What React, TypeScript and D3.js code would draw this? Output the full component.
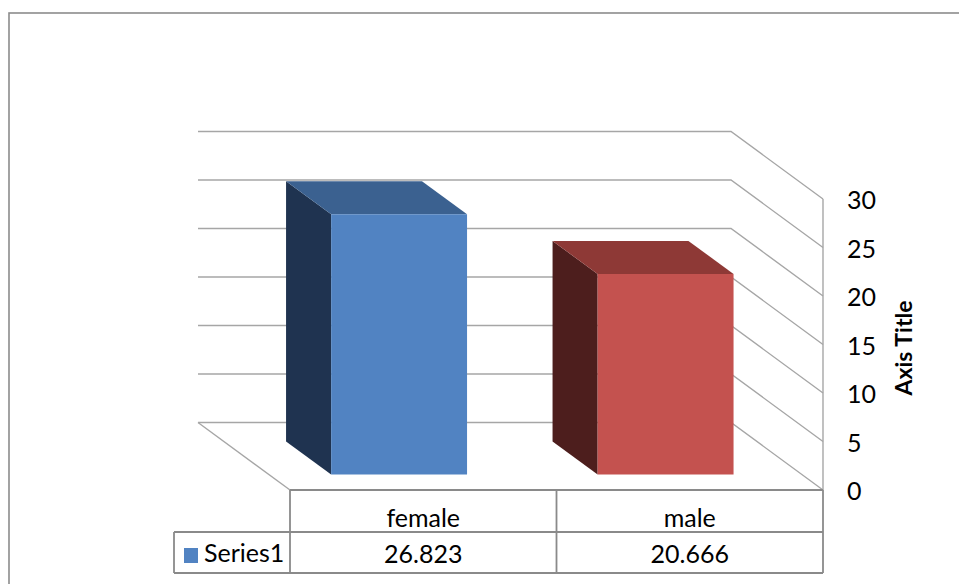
import React from "react";
import * as d3 from "d3";

const categories = ["female", "male"];
const values = [26.823, 20.666];
const valueLabels = ["26.823", "20.666"];
const seriesName = "Series1";
const ticks = [0, 5, 10, 15, 20, 25, 30];
const axisTitle = "Axis Title";

const faceFront = ["#5183c2", "#c4524f"];
const faceTop = ["#3b6190", "#8e3936"];
const faceSide = ["#1f3350", "#4d1e1d"];

const W = 959;
const H = 584;

// 3D projection parameters
const X0 = 198; // back-left corner of floor
const Y0 = 422.5;
const DX = 92; // depth offset
const DY = 67.5;
const F_BACK = 0.28;
const F_FRONT = 0.77;

const FONT = "Lato, 'Open Sans', sans-serif";

export default function App() {
  const x = d3.scaleBand<string>().domain(categories).range([0, 533]);
  const y = d3.scaleLinear().domain([0, 30]).range([0, -291]);

  const P = (u: number, v: number, f: number): [number, number] => [
    X0 + u + DX * f,
    Y0 + y(v) + DY * f,
  ];
  const pts = (arr: [number, number][]) => arr.map((p) => p.join(",")).join(" ");

  const uEnd = x.range()[1];
  const [fx0, fy0] = P(0, 0, 1);
  const [fxEnd] = P(uEnd, 0, 1);
  const headerBottom = 532;
  const tableBottom = 573;
  const legendLeft = 174;

  const barW = x.bandwidth() * 0.51;

  return (
    <svg
      width={W}
      height={H}
      style={{ position: "absolute", left: 0, top: 0, background: "#fff" }}
    >
      {/* outer chart border */}
      <rect x={9} y={13} width={W + 20} height={H + 20} fill="#fff" stroke="#8c8c8c" strokeWidth={1.6} />

      {/* back wall gridlines + side wall gridlines */}
      {ticks.map((t) => {
        const a = P(0, t, 0);
        const b = P(uEnd, t, 0);
        const c = P(uEnd, t, 1);
        return (
          <polyline
            key={"g" + t}
            points={pts([a, b, c])}
            fill="none"
            stroke="#a6a6a6"
            strokeWidth={1.4}
          />
        );
      })}
      {/* floor left edge */}
      <line
        x1={P(0, 0, 0)[0]}
        y1={P(0, 0, 0)[1]}
        x2={P(0, 0, 1)[0]}
        y2={P(0, 0, 1)[1]}
        stroke="#a6a6a6"
        strokeWidth={1.4}
      />
      {/* side wall front vertical edge */}
      <line
        x1={P(uEnd, 30, 1)[0]}
        y1={P(uEnd, 30, 1)[1]}
        x2={fxEnd}
        y2={fy0}
        stroke="#a6a6a6"
        strokeWidth={1.4}
      />

      {/* data table */}
      <g stroke="#8a8a8a" strokeWidth={1.8} fill="none">
        <line x1={fx0} y1={fy0} x2={fxEnd} y2={fy0} />
        <line x1={legendLeft} y1={headerBottom} x2={fxEnd} y2={headerBottom} />
        <line x1={legendLeft} y1={tableBottom} x2={fxEnd} y2={tableBottom} />
        <line x1={legendLeft} y1={headerBottom} x2={legendLeft} y2={tableBottom} />
        {categories.map((c) => {
          const xx = P(x(c)!, 0, 1)[0];
          return <line key={"v" + c} x1={xx} y1={fy0} x2={xx} y2={tableBottom} />;
        })}
        <line x1={fxEnd} y1={fy0} x2={fxEnd} y2={tableBottom} />
      </g>
      {categories.map((c, i) => {
        const cx = P(x(c)! + x.bandwidth() / 2, 0, 1)[0];
        return (
          <g key={"t" + c} fontFamily={FONT} fontSize={25} fill="#000" textAnchor="middle">
            <text x={cx} y={526.5}>{c}</text>
            <text x={cx} y={563}>{valueLabels[i]}</text>
          </g>
        );
      })}
      <rect x={184} y={548} width={14} height={15} fill={faceFront[0]} />
      <text x={204} y={562} fontFamily={FONT} fontSize={25} fill="#000">
        {seriesName}
      </text>

      {/* bars */}
      {categories.map((c, i) => {
        const cen = x(c)! + x.bandwidth() / 2 - 3;
        const uL = cen - barW / 2;
        const uR = cen + barW / 2;
        const v = values[i];
        const side = [P(uL, 0, F_BACK), P(uL, v, F_BACK), P(uL, v, F_FRONT), P(uL, 0, F_FRONT)];
        const top = [P(uL, v, F_BACK), P(uR, v, F_BACK), P(uR, v, F_FRONT), P(uL, v, F_FRONT)];
        const front = [P(uL, 0, F_FRONT), P(uR, 0, F_FRONT), P(uR, v, F_FRONT), P(uL, v, F_FRONT)];
        return (
          <g key={"b" + c}>
            <polygon points={pts(side)} fill={faceSide[i]} />
            <polygon points={pts(top)} fill={faceTop[i]} />
            <polygon points={pts(front)} fill={faceFront[i]} />
          </g>
        );
      })}

      {/* value axis labels */}
      {ticks.map((t) => {
        const [, ty] = P(uEnd, t, 1);
        return (
          <text key={"l" + t} x={847} y={ty + 10} fontFamily={FONT} fontSize={25} fill="#000">
            {t}
          </text>
        );
      })}
      <text
        transform={`translate(912,348) rotate(-90)`}
        textAnchor="middle"
        fontFamily={FONT}
        fontSize={23}
        fontWeight="bold"
        fill="#000"
      >
        {axisTitle}
      </text>
    </svg>
  );
}
